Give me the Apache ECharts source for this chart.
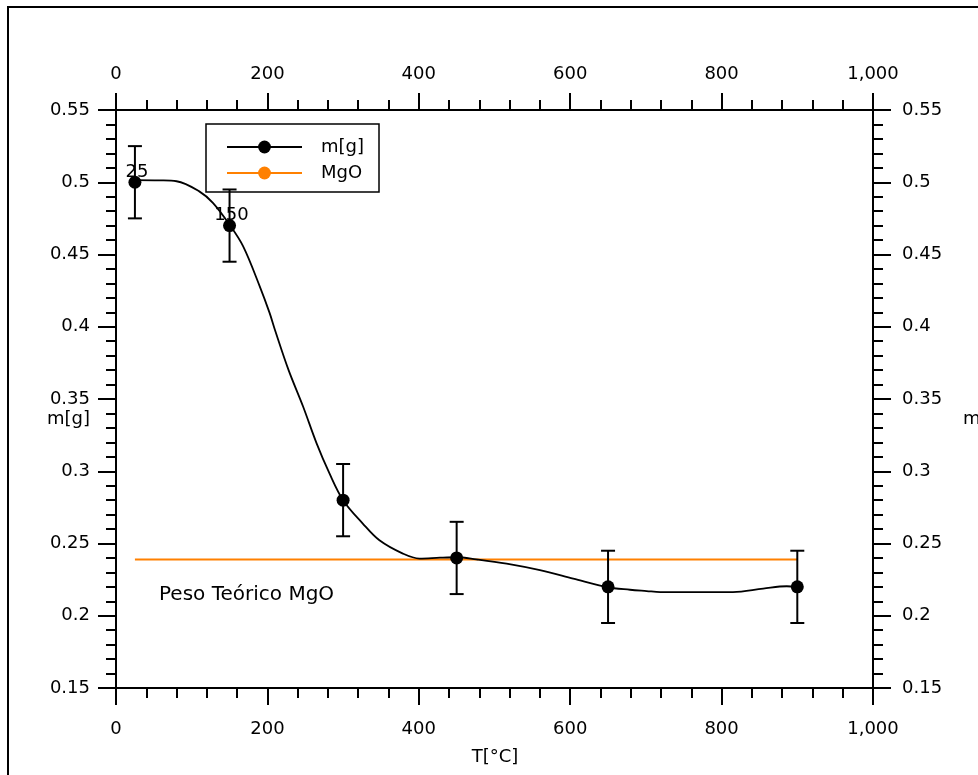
<!DOCTYPE html>
<html>
<head>
<meta charset="utf-8">
<title>m[g] vs T[°C]</title>
<script src="https://cdn.jsdelivr.net/npm/echarts@6/dist/echarts.min.js"></script>
<style>
  html, body { margin: 0; padding: 0; background: #fff; }
  #chart { width: 978px; height: 775px; }
</style>
</head>
<body>
<div id="chart"></div>
<script>
// Measured samples: temperature (°C), mass (g) and its uncertainty (g)
const temps = [25, 150, 300, 450, 650, 900];
const masses = [0.50, 0.47, 0.28, 0.24, 0.22, 0.22];
const errors = [0.025, 0.025, 0.025, 0.025, 0.025, 0.025];
// Samples whose temperature is printed next to the marker
const labeledTemps = [25, 150];

// Fitted mass-loss curve through the samples
const curveT = [25, 57, 80, 110, 128, 150, 168, 190, 203, 210, 228, 247, 265, 282, 300,
                326, 348, 379, 401, 428, 450, 476, 516, 560, 604, 648, 679, 701, 719,
                815, 855, 886, 900];
const curveM = [0.5015, 0.5013, 0.5007, 0.4937, 0.4857, 0.4706, 0.4556, 0.4278, 0.4094,
                0.3978, 0.370, 0.345, 0.3193, 0.2985, 0.280, 0.2638, 0.2522, 0.243, 0.2396,
                0.2402, 0.2405, 0.239, 0.236, 0.2315, 0.2257, 0.2199, 0.218, 0.2171, 0.2164,
                0.2164, 0.2188, 0.2204, 0.2200];

// Theoretical MgO mass, drawn across the measured range
const mgoT = [25, 900];
const mgoM = [0.239, 0.239];

// Axis ranges
const tMin = 0, tMax = 1000, tStep = 200;
const mMin = 0.15, mMax = 0.55, mStep = 0.05;

const FONT = 'DejaVu Sans';
const INK = '#000';
const ORANGE = '#ff8000';

const chart = echarts.init(document.getElementById('chart'), null, { renderer: 'canvas' });

const tLabel = v => Number(v).toLocaleString('en-US');
const mLabel = v => String(Math.round(v * 100) / 100);

function xAxisDef(position, margin) {
  return {
    type: 'value', position: position, min: tMin, max: tMax, interval: tStep,
    axisLine: { show: true, onZero: false, lineStyle: { color: INK, width: 2 } },
    axisTick: { show: true, length: 17, lineStyle: { color: INK, width: 2 } },
    minorTick: { show: true, splitNumber: 5, length: 10, lineStyle: { color: INK, width: 2 } },
    splitLine: { show: false },
    axisLabel: { color: INK, fontFamily: FONT, fontSize: 18, margin: margin, formatter: tLabel }
  };
}
function yAxisDef(position, margin) {
  return {
    type: 'value', position: position, min: mMin, max: mMax, interval: mStep,
    axisLine: { show: true, onZero: false, lineStyle: { color: INK, width: 2 } },
    axisTick: { show: true, length: 18, lineStyle: { color: INK, width: 2 } },
    minorTick: { show: true, splitNumber: 5, length: 10, lineStyle: { color: INK, width: 2 } },
    splitLine: { show: false },
    axisLabel: { color: INK, fontFamily: FONT, fontSize: 18, margin: margin, formatter: mLabel }
  };
}

const curveData = curveT.map((t, i) => [t, curveM[i]]);
const pointData = temps.map((t, i) => [t, masses[i], errors[i]]);
const mgoData = mgoT.map((t, i) => [t, mgoM[i]]);

const option = {
  backgroundColor: '#fff',
  animation: false,
  textStyle: { fontFamily: FONT },
  grid: { left: 116, right: 105, top: 110, bottom: 87, containLabel: false },
  xAxis: [xAxisDef('bottom', 32), xAxisDef('top', 27)],
  yAxis: [yAxisDef('left', 26), yAxisDef('right', 29)],
  legend: {
    orient: 'vertical',
    left: 206, top: 124,
    data: ['m[g]', 'MgO'],
    itemWidth: 75, itemHeight: 16, itemGap: 8,
    padding: [14, 15, 10, 20],
    borderColor: INK, borderWidth: 1.5, borderRadius: 0,
    backgroundColor: '#fff',
    textStyle: { color: INK, fontFamily: FONT, fontSize: 18, padding: [0, 0, 0, 14] },
    selectedMode: false
  },
  graphic: [
    { type: 'rect', silent: true, z: 100,
      shape: { x: 8, y: 7, width: 1000, height: 800 },
      style: { fill: 'none', stroke: INK, lineWidth: 2 } },
    { type: 'text', silent: true,
      style: { x: 159, y: 595, text: 'Peso Teórico MgO', fill: INK, font: '20px "DejaVu Sans"', verticalAlign: 'middle' } },
    { type: 'text', silent: true,
      style: { x: 90, y: 419, text: 'm[g]', fill: INK, font: '18px "DejaVu Sans"', align: 'right', verticalAlign: 'middle' } },
    { type: 'text', silent: true,
      style: { x: 963, y: 419, text: 'm[g]', fill: INK, font: '18px "DejaVu Sans"', align: 'left', verticalAlign: 'middle' } },
    { type: 'text', silent: true,
      style: { x: 495, y: 757, text: 'T[°C]', fill: INK, font: '18px "DejaVu Sans"', align: 'center', verticalAlign: 'middle' } }
  ],
  series: [
    {
      name: 'm[g]', type: 'line', data: curveData,
      xAxisIndex: 0, yAxisIndex: 0,
      symbol: 'circle', showSymbol: false, symbolSize: 13,
      smooth: 0.35,
      lineStyle: { color: INK, width: 1.8 },
      itemStyle: { color: INK },
      z: 3
    },
    {
      name: 'MgO', type: 'line', data: mgoData,
      xAxisIndex: 0, yAxisIndex: 0,
      symbol: 'none',
      lineStyle: { color: ORANGE, width: 2 },
      itemStyle: { color: ORANGE },
      z: 2
    },
    {
      name: 'err', type: 'custom', data: pointData,
      xAxisIndex: 0, yAxisIndex: 0,
      encode: { x: 0, y: 1 },
      renderItem: function (params, api) {
        const t = api.value(0), m = api.value(1), e = api.value(2);
        const hi = api.coord([t, m + e]);
        const lo = api.coord([t, m - e]);
        const half = 7;
        const st = { stroke: INK, lineWidth: 2 };
        return {
          type: 'group',
          children: [
            { type: 'line', shape: { x1: hi[0], y1: hi[1], x2: lo[0], y2: lo[1] }, style: st },
            { type: 'line', shape: { x1: hi[0] - half, y1: hi[1], x2: hi[0] + half, y2: hi[1] }, style: st },
            { type: 'line', shape: { x1: lo[0] - half, y1: lo[1], x2: lo[0] + half, y2: lo[1] }, style: st }
          ]
        };
      },
      z: 4
    },
    {
      name: 'points', type: 'scatter', data: pointData,
      xAxisIndex: 0, yAxisIndex: 0,
      symbol: 'circle', symbolSize: 13,
      itemStyle: { color: INK, opacity: 1 },
      label: {
        show: true, position: 'inside', offset: [2, -10],
        color: INK, textBorderWidth: 0, fontFamily: FONT, fontSize: 18,
        formatter: p => labeledTemps.indexOf(p.value[0]) >= 0 ? String(p.value[0]) : ''
      },
      z: 5
    }
  ]
};

chart.setOption(option);
</script>
</body>
</html>
